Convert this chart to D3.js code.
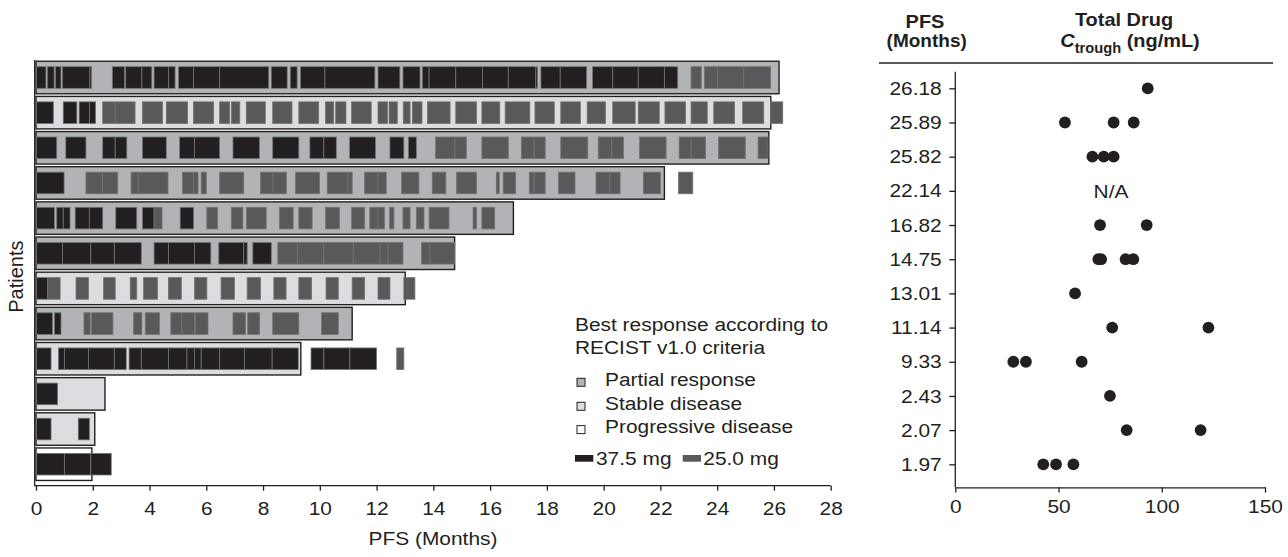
<!DOCTYPE html>
<html>
<head>
<meta charset="utf-8">
<script src="https://cdn.jsdelivr.net/npm/d3@7"></script>
<style>
  body { margin: 0; background: #ffffff; }
  svg { display: block; }
  text { font-family: "Liberation Sans", Arial, Helvetica, sans-serif; fill: #231f20; }
</style>
</head>
<body>
<svg id="chart" width="1288" height="557"></svg>
<script>
// ---- Data -------------------------------------------------------------
// One entry per patient, ordered from longest to shortest PFS.
const pfsLabels = ["26.18", "25.89", "25.82", "22.14", "16.82", "14.75",
                   "13.01", "11.14", "9.33", "2.43", "2.07", "1.97"];
const pfsMonths = [26.18, 25.89, 25.82, 22.14, 16.82, 14.75,
                   13.01, 11.14, 9.33, 2.43, 2.07, 1.97];
// PR = partial response, SD = stable disease, PD = progressive disease
const bestResponse = ["PR", "SD", "PR", "PR", "PR", "PR",
                      "SD", "PR", "SD", "SD", "SD", "PD"];

// Dosing cycles [start, end] in months, 37.5 mg
const dose375 = [
  [[0.02,0.35],[0.4,0.64],[0.69,0.88],[0.93,1.9],[1.9,1.96],[2.69,3.12],[3.16,3.73],[3.73,4.08],
   [4.16,4.67],[4.67,4.9],[5.02,5.55],[5.55,6.47],[6.47,8.2],[8.29,8.85],[8.96,9.2],[9.32,10.18],
   [10.18,11.94],[12.05,12.82],[12.93,13.53],[13.61,13.85],[13.85,14.79],[14.79,15.73],[15.73,16.64],
   [16.64,17.61],[17.61,17.67],[17.79,18.47],[18.47,19.4],[19.61,20.32],[20.32,21.22],[21.22,22.14],
   [22.14,22.61]],
  [[0.02,0.61],[0.96,1.44],[1.52,1.88],[1.88,2.1]],
  [[0.02,0.73],[1.05,1.76],[2.35,2.79],[2.79,3.2],[3.75,4.59],[5.06,5.58],[5.58,6.47],[6.94,7.87],
   [8.34,9.26],[9.65,10.14],[10.14,10.58],[11.05,11.96],[12.47,12.96],[13.12,13.4]],
  [[0.02,0.99]],
  [[0.02,0.65],[0.73,0.96],[0.96,1.2],[1.38,1.88],[1.88,2.35],[2.81,3.55],[3.75,4.16],[5.08,5.55]],
  [[0.02,0.93],[0.93,1.93],[1.93,2.76],[2.76,3.71],[4.16,4.67],[4.67,5.58],[5.58,6.16],[6.44,7.32],
   [7.32,7.44],[7.64,8.29]],
  [[0.02,0.41]],
  [[0.02,0.58],[0.65,0.88]],
  [[0.02,0.53],[0.79,1.0],[1.0,1.85],[1.85,2.76],[2.76,3.18],[3.28,3.71],[3.71,4.67],[4.67,5.32],
   [5.32,5.58],[5.58,5.82],[5.82,6.47],[6.47,7.35],[7.35,8.32],[8.32,9.24],[9.69,10.14],[10.14,11.06],
   [11.06,12.0]],
  [[0.02,0.76]],
  [[0.02,0.53],[1.49,1.88]],
  [[0.02,1.0],[1.0,1.93],[1.93,2.65]]
];

// Dosing cycles [start, end] in months, 25.0 mg
const dose250 = [
  [[23.08,23.44],[23.55,24.02],[24.02,24.94],[24.94,25.88]],
  [[2.35,2.79],[2.79,3.49],[3.75,4.46],[4.59,5.34],[5.55,6.26],[6.47,6.82],[6.88,7.18],[7.41,8.08],
   [8.34,9.02],[9.26,9.96],[10.2,10.49],[10.56,10.92],[11.12,11.81],[12.05,12.38],[12.44,12.73],
   [12.94,13.18],[13.26,13.6],[13.79,14.59],[14.79,15.52],[15.71,16.34],[16.53,17.4],[17.58,18.26],
   [18.49,19.18],[19.42,20.06],[20.32,21.11],[21.22,21.96],[22.16,22.88],[23.08,23.65],[23.88,24.61],
   [24.9,25.64],[25.88,26.31]],
  [[14.08,14.76],[14.76,15.16],[15.71,16.64],[17.1,17.55],[17.55,17.94],[18.49,19.44],[19.81,20.29],
   [20.29,20.7],[21.26,22.2],[22.66,23.08],[23.08,23.59],[24.05,24.99],[25.44,25.79]],
  [[1.76,2.34],[2.34,2.88],[3.35,3.61],[3.61,4.65],[5.16,5.55],[5.55,5.71],[5.82,6.0],[6.47,7.32],
   [7.91,8.35],[8.35,8.82],[9.14,9.99],[10.26,10.99],[10.99,11.14],[11.58,12.05],[12.05,12.34],
   [12.88,13.49],[13.96,14.44],[14.82,15.52],[16.22,16.32],[16.46,16.9],[17.38,17.55],[17.55,17.94],
   [18.41,18.99],[19.73,20.22],[20.22,20.58],[21.4,22.0],[22.64,23.14]],
  [[4.16,4.44],[6.02,6.4],[6.88,7.29],[7.41,8.11],[8.58,9.06],[9.26,9.73],[10.2,10.69],[11.12,11.58],
   [11.76,12.05],[12.05,12.28],[12.46,12.61],[12.93,13.18],[13.4,13.67],[13.85,14.55],[15.4,15.52],
   [15.71,16.16]],
  [[8.52,9.22],[9.22,10.14],[10.14,11.18],[11.18,12.12],[12.12,12.4],[12.4,12.93],[13.58,13.88],
   [13.88,14.75]],
  [[0.41,0.85],[1.41,1.85],[2.38,2.79],[3.32,3.55],[3.79,4.28],[4.67,5.12],[5.59,6.02],[6.52,6.99],
   [7.44,7.91],[8.38,8.81],[9.26,9.71],[10.22,10.65],[11.14,11.58],[12.05,12.47],[12.96,13.35]],
  [[1.69,1.91],[1.96,2.71],[3.44,3.73],[3.85,4.35],[4.75,5.14],[5.14,5.59],[5.61,6.06],[6.94,7.38],
   [7.46,7.88],[8.34,9.26],[10.06,10.65]],
  [[12.71,12.96]],
  [],
  [],
  []
];

// Total drug C-trough (ng/mL) per patient; null = not available
const cTrough = [
  [93.2],
  [53.1, 76.7, 86.4],
  [66.4, 71.9, 76.7],
  null,
  [70.1, 92.7],
  [69.3, 70.6, 82.5, 86.2],
  [58.0],
  [76.0, 122.6],
  [28.1, 34.2, 61.2],
  [74.9],
  [83.0, 118.8],
  [42.6, 48.8, 57.2]
];

const monthTicks = [0, 2, 4, 6, 8, 10, 12, 14, 16, 18, 20, 22, 24, 26, 28];
const cTroughTicks = [0, 50, 100, 150];

// ---- Setup ------------------------------------------------------------
const INK = "#231f20";
const STRETCH = 1.1;
const svg = d3.select("#chart");

function label(g, str, x, y, opts = {}) {
  const s = opts.stretch || STRETCH;
  return g.append("text")
    .attr("transform", `translate(${x},${y}) scale(${s},1)`)
    .attr("text-anchor", opts.anchor || "start")
    .style("font-size", (opts.size || 19) + "px")
    .style("font-weight", opts.weight || null)
    .text(str);
}

const rows = d3.range(pfsMonths.length);
const x = d3.scaleLinear().domain([0, 28]).range([36, 830.7]);
const y = d3.scalePoint().domain(rows).range([77.5, 464.2]);
const barH = 32.5, segH = 21.6;

const responseFill = d3.scaleOrdinal()
  .domain(["PR", "SD", "PD"]).range(["#b2b3b6", "#dcdde0", "#ffffff"]);
const doseFill = d3.scaleOrdinal()
  .domain(["37.5", "25.0"]).range([INK, "#58595b"]);

// ---- Swimmer panel ----------------------------------------------------
const swim = svg.append("g");

swim.append("g").selectAll("rect").data(rows).join("rect")
  .attr("x", x(0))
  .attr("y", i => y(i) - barH / 2)
  .attr("width", i => x(pfsMonths[i]) - x(0))
  .attr("height", barH)
  .attr("fill", i => responseFill(bestResponse[i]))
  .attr("stroke", INK)
  .attr("stroke-width", 1.4);

const cycles = [];
rows.forEach(i => {
  dose375[i].forEach(([a, b]) => cycles.push({ row: i, a, b, dose: "37.5" }));
  dose250[i].forEach(([a, b]) => cycles.push({ row: i, a, b, dose: "25.0" }));
});

swim.append("g").selectAll("rect").data(cycles).join("rect")
  .attr("x", d => x(d.a))
  .attr("y", d => y(d.row) - segH / 2)
  .attr("width", d => x(d.b) - x(d.a))
  .attr("height", segH)
  .attr("fill", d => doseFill(d.dose))
  .attr("stroke", "#727375")
  .attr("stroke-width", 0.8);

// x axis
const xAxisG = swim.append("g")
  .attr("transform", "translate(0,485.7)")
  .call(d3.axisBottom(x).tickValues(monthTicks).tickSize(5).tickSizeOuter(0).tickPadding(11.3));
xAxisG.select(".domain").attr("stroke", INK).attr("stroke-width", 1.3).attr("d", `M${34.7},0H${x(28)}`);
xAxisG.selectAll(".tick line").attr("stroke", INK).attr("stroke-width", 1.3);
xAxisG.selectAll(".tick text")
  .attr("fill", INK)
  .style("font-size", "19px")
  .style("font-family", '"Liberation Sans", Arial, sans-serif')
  .attr("transform", `scale(${STRETCH},1)`);

// y axis line
swim.append("line")
  .attr("x1", 34.7).attr("x2", 34.7).attr("y1", 60).attr("y2", 486.3)
  .attr("stroke", INK).attr("stroke-width", 1.3);

label(swim, "PFS (Months)", 433, 545, { anchor: "middle" });
swim.append("text")
  .attr("transform", "translate(23.3,276.7) rotate(-90)")
  .attr("text-anchor", "middle")
  .style("font-size", "20px")
  .text("Patients");

// Legend
const legend = swim.append("g");
label(legend, "Best response according to", 575, 331);
label(legend, "RECIST v1.0 criteria", 575, 354.3);
const legendItems = [
  { key: "PR", text: "Partial response", base: 386 },
  { key: "SD", text: "Stable disease", base: 410 },
  { key: "PD", text: "Progressive disease", base: 433.3 }
];
legendItems.forEach(d => {
  legend.append("rect")
    .attr("x", 577).attr("y", d.base - 7.7).attr("width", 8).attr("height", 8)
    .attr("fill", responseFill(d.key)).attr("stroke", INK).attr("stroke-width", 1);
  label(legend, d.text, 605, d.base);
});
[{ dose: "37.5", x0: 575, tx: 596 }, { dose: "25.0", x0: 682.7, tx: 703.3 }].forEach(d => {
  legend.append("rect")
    .attr("x", d.x0).attr("y", 455).attr("width", 18.3).attr("height", 6.7)
    .attr("fill", doseFill(d.dose));
  label(legend, d.dose + " mg", d.tx, 465);
});

// ---- C-trough panel -----------------------------------------------------
const ct = svg.append("g");
const cx = d3.scaleLinear().domain([0, 150]).range([955.3, 1265]);
const cy = d3.scalePoint().domain(pfsLabels).range([88.3, 464.3]);

// headers
label(ct, "PFS", 925, 28.3, { anchor: "middle", weight: "bold", stretch: 1.05 });
label(ct, "(Months)", 926.7, 47, { anchor: "middle", weight: "bold", stretch: 1.0 });
label(ct, "Total Drug", 1124, 26, { anchor: "middle", weight: "bold", stretch: 1.05 });
const ctr = ct.append("text")
  .attr("transform", "translate(1130,46.7) scale(1.05,1)")
  .attr("text-anchor", "middle")
  .style("font-size", "19px")
  .style("font-weight", "bold");
ctr.append("tspan").style("font-style", "italic").text("C");
ctr.append("tspan").attr("dy", 6).style("font-size", "14px").text("trough");
ctr.append("tspan").attr("dy", -6).text(" (ng/mL)");

ct.append("line")
  .attr("x1", 879).attr("x2", 1273).attr("y1", 63).attr("y2", 63)
  .attr("stroke", INK).attr("stroke-width", 1.3);

// y axis (PFS categories)
const cyAxis = ct.append("g")
  .attr("transform", `translate(${cx(0)},0)`)
  .call(d3.axisLeft(cy).tickSize(6).tickSizeOuter(0));
cyAxis.select(".domain").remove();
cyAxis.selectAll(".tick line").attr("stroke", INK).attr("stroke-width", 1.3);
cyAxis.selectAll(".tick text")
  .attr("x", null)
  .attr("fill", INK)
  .style("font-size", "19px")
  .style("font-family", '"Liberation Sans", Arial, sans-serif')
  .attr("transform", `translate(-13.6,0) scale(${STRETCH},1)`);
ct.append("line")
  .attr("x1", cx(0)).attr("x2", cx(0)).attr("y1", 71.7).attr("y2", 487.3)
  .attr("stroke", INK).attr("stroke-width", 1.3);

// x axis (C-trough)
const cxAxis = ct.append("g")
  .attr("transform", "translate(0,487.3)")
  .call(d3.axisBottom(cx).tickValues(cTroughTicks).tickSize(5.3).tickSizeOuter(0).tickPadding(7.4));
cxAxis.select(".domain").attr("stroke", INK).attr("stroke-width", 1.3);
cxAxis.selectAll(".tick line").attr("stroke", INK).attr("stroke-width", 1.3);
cxAxis.selectAll(".tick text")
  .attr("fill", INK)
  .style("font-size", "19px")
  .style("font-family", '"Liberation Sans", Arial, sans-serif')
  .attr("transform", `scale(${STRETCH},1)`);

// points
const pts = [];
rows.forEach(i => { if (cTrough[i]) cTrough[i].forEach(v => pts.push({ label: pfsLabels[i], v })); });
ct.append("g").selectAll("circle").data(pts).join("circle")
  .attr("cx", d => cx(d.v))
  .attr("cy", d => cy(d.label))
  .attr("r", 5.9)
  .attr("fill", INK);

// unavailable values
rows.filter(i => cTrough[i] === null).forEach(i => {
  label(ct, "N/A", 1111, cy(pfsLabels[i]) + 6.8, { anchor: "middle" });
});
</script>
</body>
</html>
